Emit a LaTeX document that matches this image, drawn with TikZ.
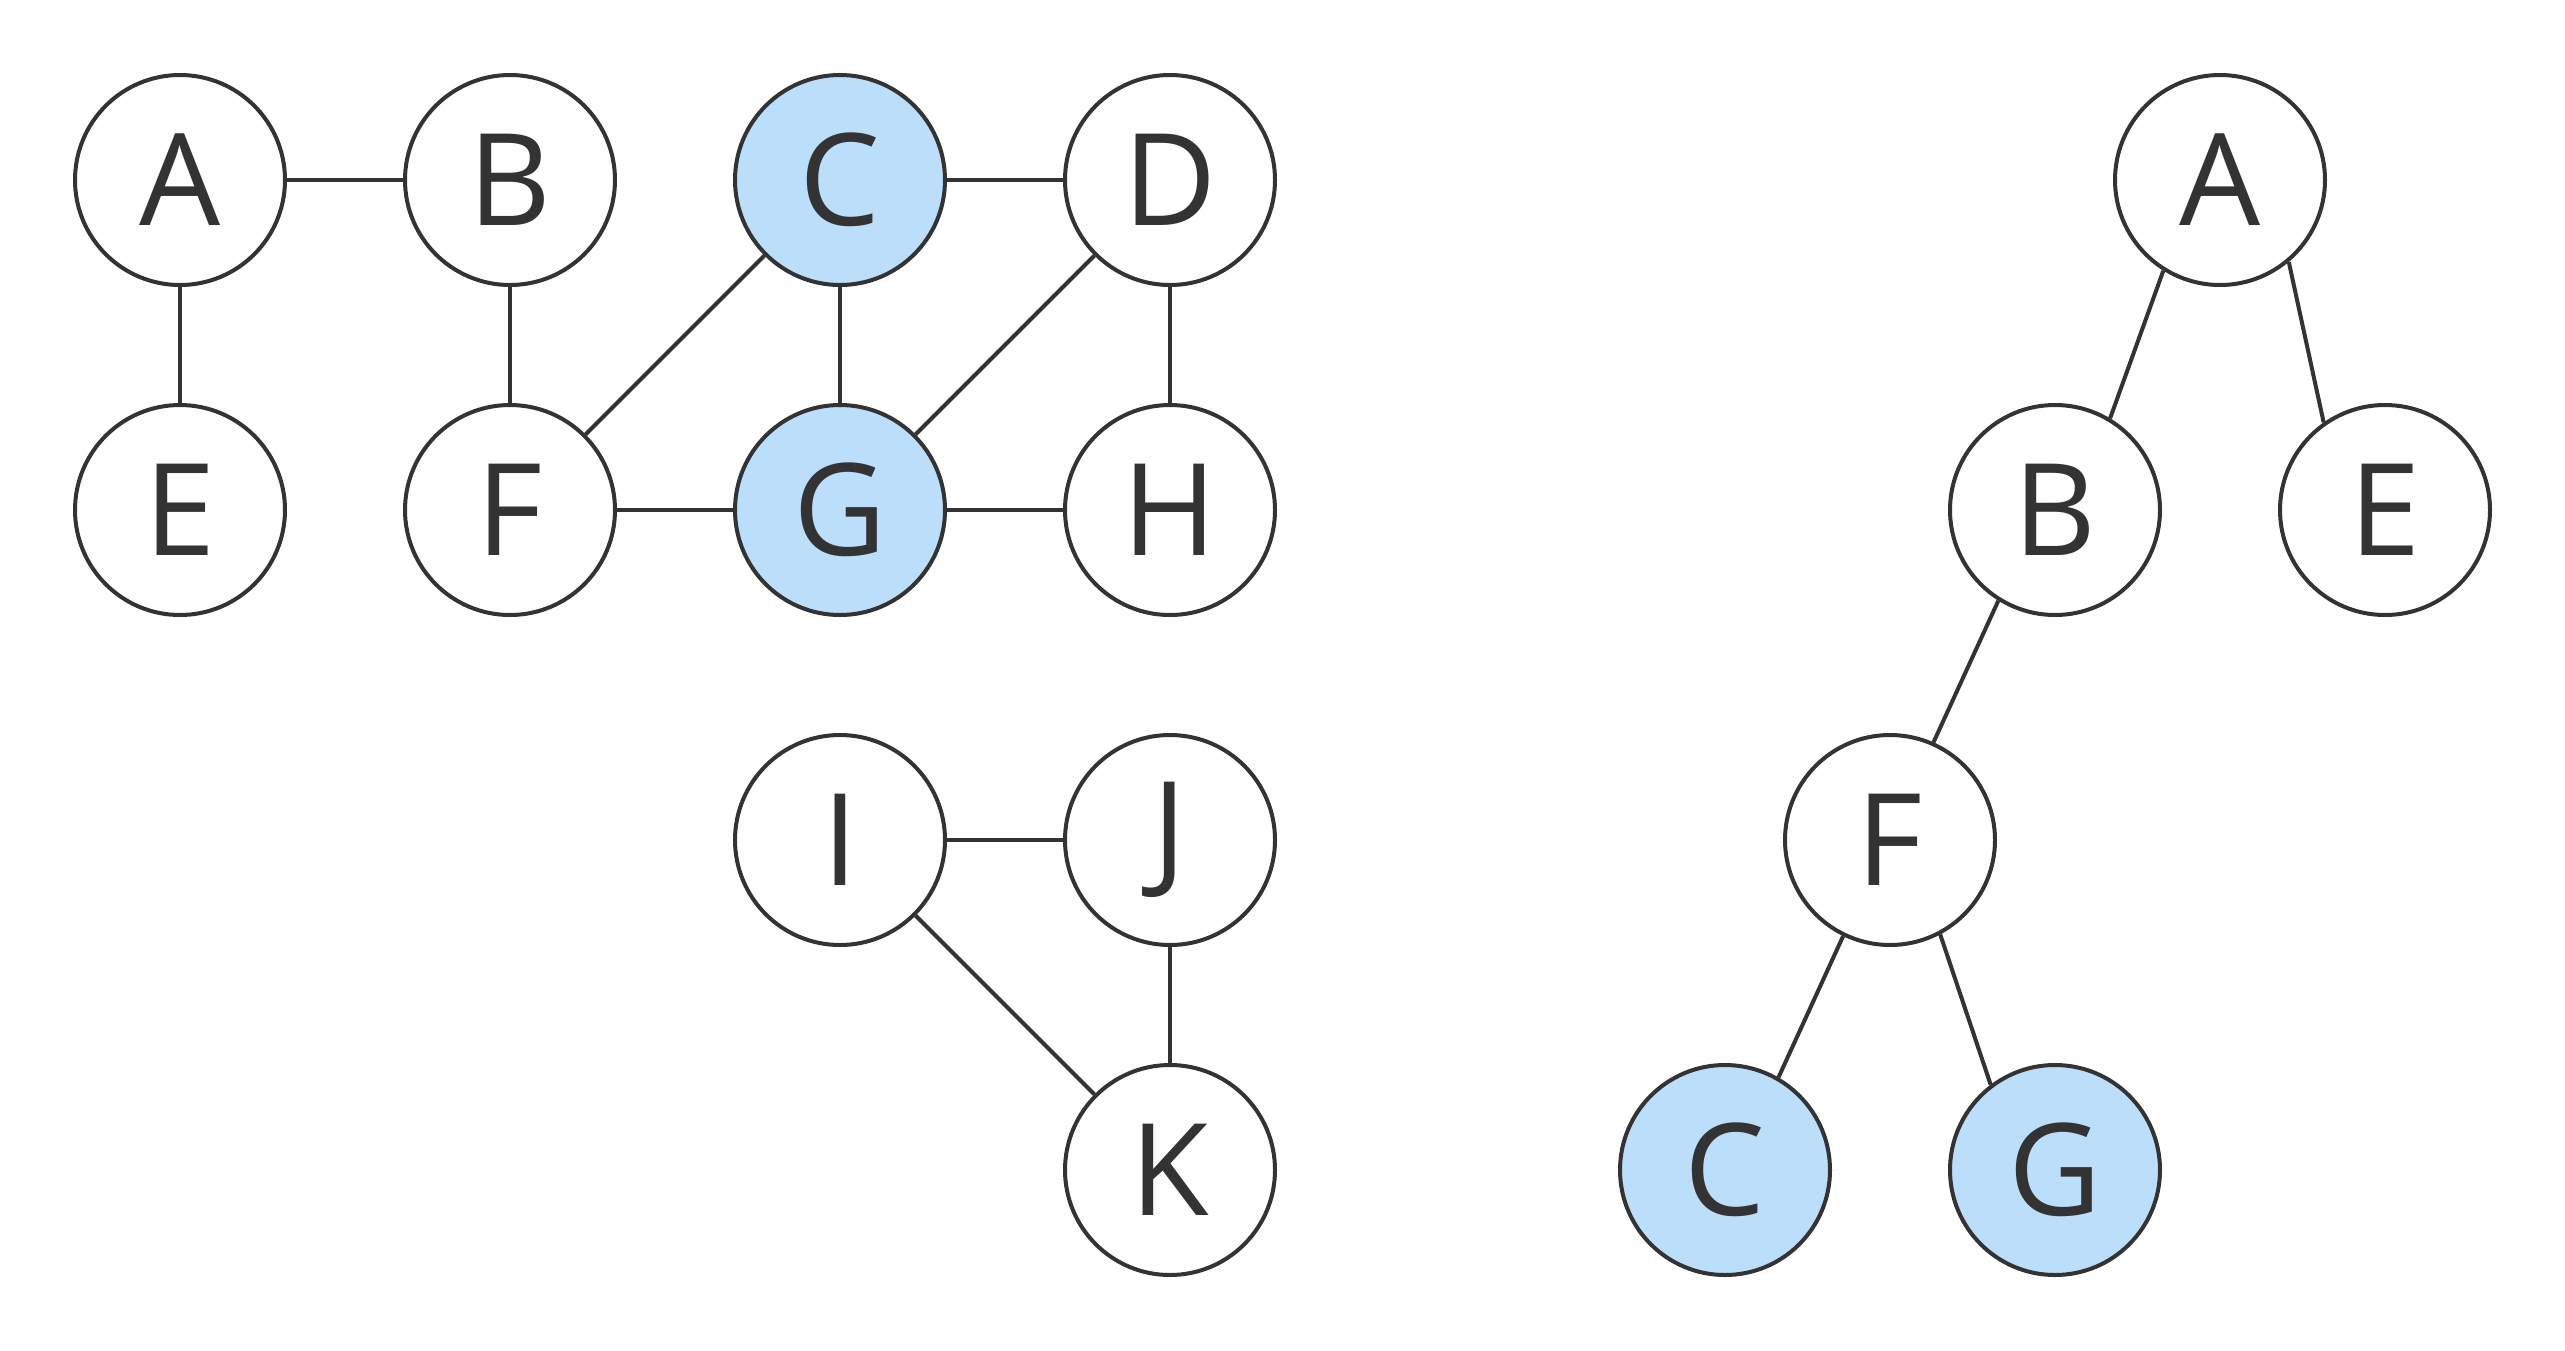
\documentclass[tikz,border=0pt]{standalone}
\usepackage{fontspec}
\setmainfont{Open Sans}
\definecolor{ink}{HTML}{333333}
\definecolor{hl}{HTML}{BBDEFA}
\tikzset{
  vtx/.style={circle, draw=ink, line width=2pt, fill=white, inner sep=0pt,
    minimum size=105pt, text=ink, font=\fontsize{64}{64}\selectfont},
  hot/.style={vtx, fill=hl},
  link/.style={draw=ink, line width=2pt}
}
\begin{document}
\begin{tikzpicture}[x=0.5pt,y=-0.5pt]
\useasboundingbox (0,0) rectangle (2565,1350);
% graph 1
\node[vtx] (a) at (180,180) {A};
\node[vtx] (b) at (510,180) {B};
\node[hot] (c) at (840,180) {C};
\node[vtx] (d) at (1170,180) {D};
\node[vtx] (e) at (180,510) {E};
\node[vtx] (f) at (510,510) {F};
\node[hot] (g) at (840,510) {G};
\node[vtx] (h) at (1170,510) {H};
\node[vtx] (i) at (840,840) {I};
\node[vtx] (j) at (1170,840) {J};
\node[vtx] (k) at (1170,1170) {K};
\draw[link] (a) -- (b);
\draw[link] (a) -- (e);
\draw[link] (b) -- (f);
\draw[link] (c) -- (d);
\draw[link] (c) -- (g);
\draw[link] (c) -- (f);
\draw[link] (d) -- (g);
\draw[link] (d) -- (h);
\draw[link] (f) -- (g);
\draw[link] (g) -- (h);
\draw[link] (i) -- (j);
\draw[link] (i) -- (k);
\draw[link] (j) -- (k);
% tree
\node[vtx] (ta) at (2220,180) {A};
\node[vtx] (tb) at (2055,510) {B};
\node[vtx] (te) at (2385,510) {E};
\node[vtx] (tf) at (1890,840) {F};
\node[hot] (tc) at (1725,1170) {C};
\node[hot] (tg) at (2055,1170) {G};
\draw[link] (ta.238) -- (tb.59);
\draw[link] (ta.-50) -- (te.125);
\draw[link] (tb.238) -- (tf.66);
\draw[link] (tf.244) -- (tc.60);
\draw[link] (tf.-62) -- (tg.127);
\end{tikzpicture}
\end{document}
